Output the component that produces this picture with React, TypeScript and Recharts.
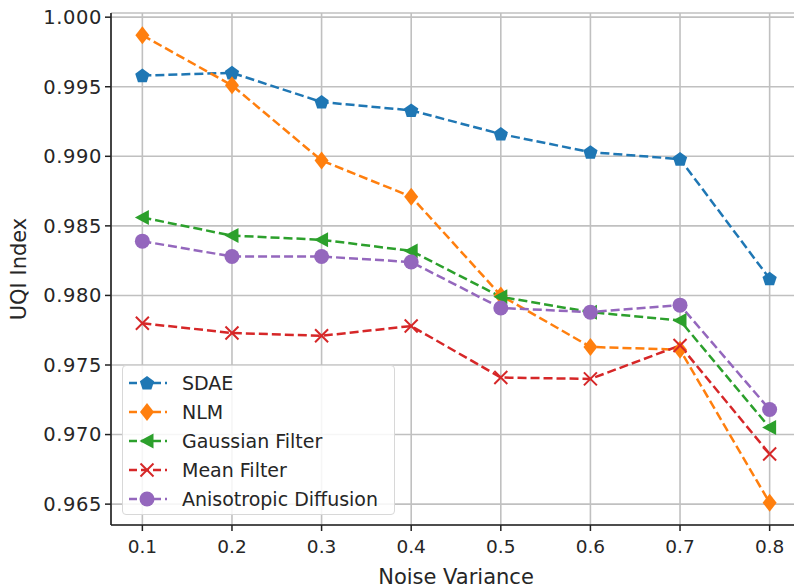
import React from 'react';
import { LineChart, Line, XAxis, YAxis, CartesianGrid, Legend } from 'recharts';

const noiseLevels = [0.1, 0.2, 0.3, 0.4, 0.5, 0.6, 0.7, 0.8];
const sdae = [0.9958, 0.996, 0.9939, 0.9933, 0.9916, 0.9903, 0.9898, 0.9812];
const nlm = [0.9987, 0.9951, 0.9897, 0.9871, 0.98, 0.9763, 0.9761, 0.9651];
const gaussian = [0.9856, 0.9843, 0.984, 0.9832, 0.9799, 0.9788, 0.9782, 0.9705];
const meanFilter = [0.978, 0.9773, 0.9771, 0.9778, 0.9741, 0.974, 0.9764, 0.9686];
const anisotropic = [0.9839, 0.9828, 0.9828, 0.9824, 0.9791, 0.9788, 0.9793, 0.9718];

const yTicks = [0.965, 0.97, 0.975, 0.98, 0.985, 0.99, 0.995, 1.0];

const FONT = '"DejaVu Sans", sans-serif';
const TEXT = '#262626';

type Marker = 'pentagon' | 'diamond' | 'triangle' | 'cross' | 'circle';

const SERIES: { key: string; name: string; color: string; marker: Marker; values: number[] }[] = [
  { key: 'sdae', name: 'SDAE', color: '#1f77b4', marker: 'pentagon', values: sdae },
  { key: 'nlm', name: 'NLM', color: '#ff7f0e', marker: 'diamond', values: nlm },
  { key: 'gauss', name: 'Gaussian Filter', color: '#2ca02c', marker: 'triangle', values: gaussian },
  { key: 'mean', name: 'Mean Filter', color: '#d62728', marker: 'cross', values: meanFilter },
  { key: 'aniso', name: 'Anisotropic Diffusion', color: '#9467bd', marker: 'circle', values: anisotropic },
];

const rows = noiseLevels.map((x, i) => {
  const row: Record<string, number> = { x };
  SERIES.forEach((s) => {
    row[s.key] = s.values[i];
  });
  return row;
});

function markerShape(marker: Marker, cx: number, cy: number, color: string, key?: string) {
  switch (marker) {
    case 'pentagon': {
      const r = 7.5;
      const pts = [0, 1, 2, 3, 4]
        .map((k) => {
          const a = -Math.PI / 2 + (k * 2 * Math.PI) / 5;
          return `${cx + r * Math.cos(a)},${cy + 0.5 + r * Math.sin(a)}`;
        })
        .join(' ');
      return <polygon key={key} points={pts} fill={color} />;
    }
    case 'diamond':
      return (
        <polygon
          key={key}
          points={`${cx},${cy - 9} ${cx + 7},${cy} ${cx},${cy + 9} ${cx - 7},${cy}`}
          fill={color}
        />
      );
    case 'triangle':
      return (
        <polygon
          key={key}
          points={`${cx - 7.5},${cy} ${cx + 6.5},${cy - 7.5} ${cx + 6.5},${cy + 7.5}`}
          fill={color}
        />
      );
    case 'cross':
      return (
        <g key={key} stroke={color} strokeWidth={2}>
          <line x1={cx - 6.5} y1={cy - 6.5} x2={cx + 6.5} y2={cy + 6.5} />
          <line x1={cx - 6.5} y1={cy + 6.5} x2={cx + 6.5} y2={cy - 6.5} />
        </g>
      );
    default:
      return <circle key={key} cx={cx} cy={cy} r={7.5} fill={color} />;
  }
}

const LegendBox = () => (
  <div
    style={{
      position: 'absolute',
      left: 122,
      top: 365,
      width: 273,
      height: 150,
      boxSizing: 'border-box',
      border: '1px solid #d8d8d8',
      borderRadius: 4,
      background: 'rgba(255,255,255,0.85)',
      fontFamily: FONT,
      fontSize: 19,
      color: TEXT,
      paddingTop: 2,
    }}
  >
    {SERIES.map((s) => (
      <div key={s.key} style={{ display: 'flex', alignItems: 'center', height: 29, paddingLeft: 5 }}>
        <svg width={40} height={22} style={{ marginRight: 14 }}>
          <line x1={1} y1={11} x2={39} y2={11} stroke={s.color} strokeWidth={2.5} strokeDasharray="8 4" />
          {markerShape(s.marker, 19, 11, s.color)}
        </svg>
        <span>{s.name}</span>
      </div>
    ))}
  </div>
);

export default function App() {
  return (
    <div style={{ position: 'absolute', left: 0, top: 0, width: 794, height: 588, overflow: 'hidden', background: '#fff' }}>
      <LineChart width={830} height={588} data={rows} margin={{ top: 13, right: 29, bottom: 0, left: 0 }}>
        <CartesianGrid stroke="#c0c0c0" strokeWidth={1.6} ticks={yTicks} />
        <XAxis
          dataKey="x"
          type="number"
          domain={[0.065, 0.835]}
          ticks={noiseLevels}
          tickFormatter={(v: number) => v.toFixed(1)}
          height={63}
          axisLine={{ stroke: '#222', strokeWidth: 1.6 }}
          tickLine={{ stroke: '#222', strokeWidth: 1.5 }}
          tickSize={6}
          tickMargin={9}
          tick={{ fontFamily: FONT, fontSize: 18.5, fill: TEXT }}
          label={{ value: 'Noise Variance', position: 'insideBottom', offset: 0, dy: -4, style: { fontFamily: FONT, fontSize: 21, fill: TEXT } }}
        />
        <XAxis
          xAxisId="top"
          orientation="top"
          dataKey="x"
          type="number"
          domain={[0.065, 0.835]}
          height={0}
          tick={false}
          tickLine={false}
          axisLine={{ stroke: '#222', strokeWidth: 1.6 }}
        />
        <YAxis
          type="number"
          domain={[0.9635, 1.0003]}
          ticks={yTicks}
          allowDataOverflow
          tickFormatter={(v: number) => v.toFixed(3)}
          width={111}
          axisLine={{ stroke: '#222', strokeWidth: 1.6 }}
          tickLine={{ stroke: '#222', strokeWidth: 1.5 }}
          tickSize={6}
          tickMargin={3}
          tick={{ fontFamily: FONT, fontSize: 19.5, fill: TEXT, letterSpacing: 0.6 }}
          label={{ value: 'UQI Index', angle: -90, position: 'insideLeft', offset: 19, style: { fontFamily: FONT, fontSize: 21, fill: TEXT, textAnchor: 'middle' } }}
        />
        {SERIES.map((s) => (
          <Line
            key={s.key}
            dataKey={s.key}
            name={s.name}
            stroke={s.color}
            strokeWidth={2.5}
            strokeDasharray="9 4"
            isAnimationActive={false}
            dot={(p: any) => markerShape(s.marker, p.cx, p.cy, s.color, `${s.key}-${p.index}`)}
            activeDot={false}
          />
        ))}
        <Legend content={() => null} />
      </LineChart>
      <LegendBox />
    </div>
  );
}
